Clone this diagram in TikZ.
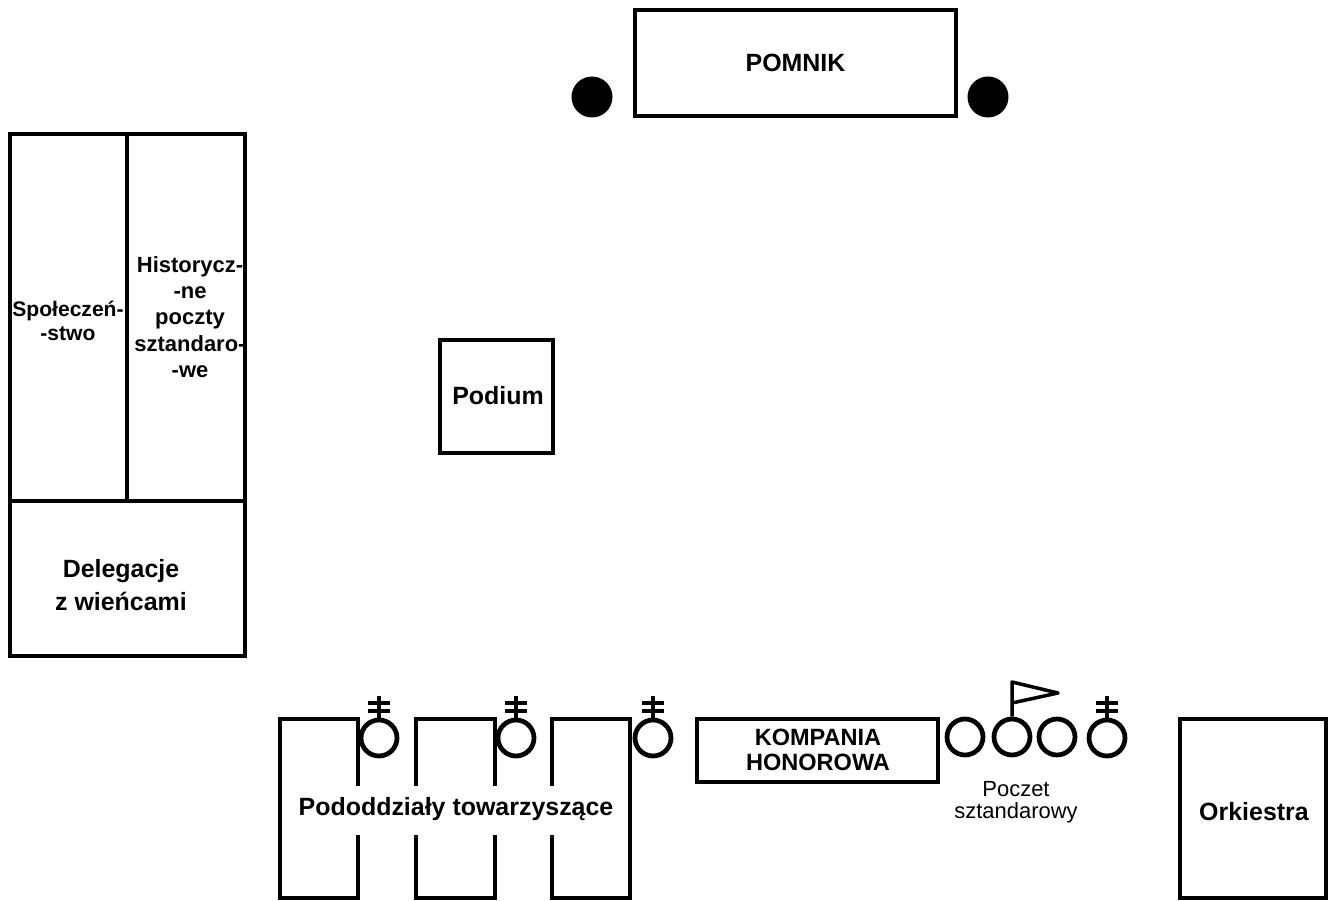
\documentclass[tikz,border=0pt]{standalone}
\usepackage{fontspec}
\setmainfont{Liberation Sans}
\tikzset{
	wall/.style={line width=0.095cm, line cap=butt, line join=miter},
	plot/.style={wall, draw, rectangle, inner sep=0pt},
	ring/.style={wall, draw, circle, inner sep=0pt, minimum size=0.72cm},
	post/.style={fill=black, circle, inner sep=0pt, minimum size=0.82cm},
	bar/.style={line width=0.07cm},
	big/.style={align=center, inner sep=0pt, font=\bfseries\fontsize{14.2}{18.7}\selectfont},
	small/.style={align=center, inner sep=0pt, font=\bfseries\fontsize{12}{15}\selectfont},
	caption/.style={align=center, inner sep=0pt, font=\fontsize{12.5}{12.8}\selectfont}
}
\begin{document}
\begin{tikzpicture}[x=0.02cm, y=-0.02cm]
	\useasboundingbox (0,0) rectangle (1329,901);
	% monument
	\node[plot, big, minimum width=6.42cm, minimum height=2.12cm] (pomnik) at (795.5,63) {POMNIK};
	\node[post] (postl) at (592,97) {};
	\node[post] (postr) at (988,97) {};
	% left block
	\node[plot, minimum width=4.7cm, minimum height=10.44cm] (block) at (127.5,395) {};
	\draw[wall] (10,501) -- (245,501);
	\draw[wall] (127,134) -- (127,501);
	\node[small] (spol) at (68,321) {Społeczeń-\\[-1.4pt]-stwo};
	\node[small, font=\bfseries\fontsize{12.5}{15}\selectfont] (hist) at (190,317) {Historycz-\\-ne\\poczty\\sztandaro-\\-we};
	\node[big] (deleg) at (121,585) {Delegacje\\z wieńcami};
	\node[plot, minimum width=2.26cm, minimum height=2.26cm] (podium) at (496.5,396.5) {};
	\node[big] (podiumt) at (498,396) {Podium};
	% units at the bottom
	\draw[wall] (358,786) -- (358,719) -- (280,719) -- (280,898) -- (358,898) -- (358,835);
	\draw[wall] (495,786) -- (495,719) -- (416,719) -- (416,786);
	\draw[wall] (416,835) -- (416,898) -- (495,898) -- (495,835);
	\draw[wall] (552,786) -- (552,719) -- (630,719) -- (630,898) -- (552,898) -- (552,835);
	\node[big] (units) at (456,809) {Pododdziały towarzyszące};
	\node[plot, minimum width=4.82cm, minimum height=1.26cm] (kompania) at (817.5,750.5) {};
	\node[big, font=\bfseries\fontsize{13.4}{14.2}\selectfont] (kompaniat) at (818,750) {KOMPANIA\\HONOROWA};
	\foreach \name/\x in {a/379, b/516, c/653, d/1107}{
		\node[ring] (ring\name) at (\x,738) {};
		\coordinate (top\name) at (\x,696);
		\draw[wall] (ring\name.north) -- (top\name);
		\draw[bar] (\x-11,703) -- (\x+11,703);
		\draw[bar] (\x-11,711) -- (\x+11,711);}
	% colour party
	\node[ring] (party1) at (965,737) {};
	\node[ring] (party2) at (1012,737) {};
	\node[ring] (party3) at (1057,737) {};
	\coordinate (flagtop) at (1012,682);
	\coordinate (flagtip) at (1058,693);
	\coordinate (flagend) at (1012,703);
	\draw[wall, line width=0.07cm, line join=round] (party2.north) -- (flagtop) -- (flagtip) -- (flagend);
	\node[caption] (poczet) at (1016,802) {Poczet\\sztandarowy};
	% band
	\draw[wall] (1180,898) -- (1180,719) -- (1326,719) -- (1326,898) -- cycle;
	\node[big] (orkiestra) at (1254,812) {Orkiestra};
\end{tikzpicture}
\end{document}
